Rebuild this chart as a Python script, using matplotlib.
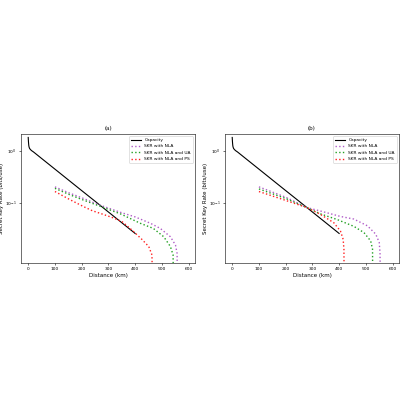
import numpy as np
import matplotlib
matplotlib.use("Agg")
from matplotlib import pyplot as plt

# capacity curve (same in both panels)
cap_d = [0, 1, 2, 3, 5, 8, 12, 20, 50, 100, 150, 200, 250, 300, 350, 400]
cap_v = [1.82, 1.48, 1.29, 1.20, 1.12, 1.07, 1.02, 0.955, 0.718, 0.447, 0.278, 0.173, 0.108, 0.067, 0.0417, 0.0259]

# panel (a)
a_nla_d = [100, 150, 200, 262, 345, 401, 457, 494, 532, 551, 557, 559]
a_nla_v = [0.204, 0.158, 0.126, 0.0933, 0.0661, 0.0537, 0.0407, 0.0324, 0.0224, 0.0155, 0.0107, 0.001]
a_ua_d = [100, 150, 200, 262, 345, 419, 468, 507, 532, 542, 544]
a_ua_v = [0.191, 0.148, 0.117, 0.0891, 0.0617, 0.0407, 0.0324, 0.0224, 0.0145, 0.0100, 0.001]
a_ps_d = [100, 157, 207, 240, 275, 320, 351, 388, 425, 451, 463, 466]
a_ps_v = [0.166, 0.115, 0.0851, 0.0708, 0.0617, 0.0513, 0.0437, 0.0302, 0.0200, 0.0145, 0.0100, 0.001]

# panel (b)
b_nla_d = [100, 200, 280, 330, 405, 455, 506, 537, 550, 553, 555]
b_nla_v = [0.204, 0.129, 0.0813, 0.0700, 0.0550, 0.0490, 0.0363, 0.0251, 0.0174, 0.0110, 0.001]
b_ua_d = [100, 200, 280, 330, 393, 455, 493, 518, 525, 526]
b_ua_v = [0.186, 0.122, 0.0813, 0.0617, 0.0479, 0.0355, 0.0269, 0.0186, 0.0129, 0.001]
b_ps_d = [100, 200, 280, 330, 380, 405, 415, 418, 419]
b_ps_v = [0.166, 0.112, 0.0813, 0.0603, 0.0417, 0.0288, 0.0200, 0.0129, 0.001]

labels = ['Capacity', 'SKR with NLA', 'SKR with NLA and UA', 'SKR with NLA and PS']
panels = [
    ('(a)', [(a_nla_d, a_nla_v), (a_ua_d, a_ua_v), (a_ps_d, a_ps_v)]),
    ('(b)', [(b_nla_d, b_nla_v), (b_ua_d, b_ua_v), (b_ps_d, b_ps_v)]),
]
colors = ['#b05cc8', '#22a022', '#ff2020']

fig = plt.figure(figsize=(4, 4), dpi=100)
lefts = [0.0525, 0.5625]
for (title, series), left in zip(panels, lefts):
    ax = fig.add_axes([left, 0.3425, 0.435, 0.3225])
    ax.plot(cap_d, cap_v, color='black', lw=0.8, label=labels[0])
    for (d, v), c, lab in zip(series, colors, labels[1:]):
        ax.plot(d, v, ':', color=c, lw=1.0, label=lab)
    ax.set_yscale('log')
    ax.set_ylim(0.007, 2.12)
    ax.set_xlim(-27, 624)
    ax.set_xticks([0, 100, 200, 300, 400, 500, 600])
    ax.set_yticks([1, 0.1])
    ax.yaxis.set_minor_locator(matplotlib.ticker.NullLocator())
    ax.tick_params(labelsize=3.2, length=1.5, width=0.4, pad=1.5)
    for s in ax.spines.values():
        s.set_linewidth(0.4)
    ax.set_title(title, fontsize=4, family='serif', pad=3)
    ax.set_xlabel('Distance (km)', fontsize=4, labelpad=1)
    ax.set_ylabel('Secret Key Rate (bits/use)', fontsize=4, labelpad=1)
    leg = ax.legend(loc='upper right', fontsize=3.2, handlelength=2.2, borderpad=0.4,
                    labelspacing=0.5, framealpha=1, edgecolor='#cccccc')
    leg.get_frame().set_linewidth(0.4)

plt.savefig("out.png", dpi=100)
